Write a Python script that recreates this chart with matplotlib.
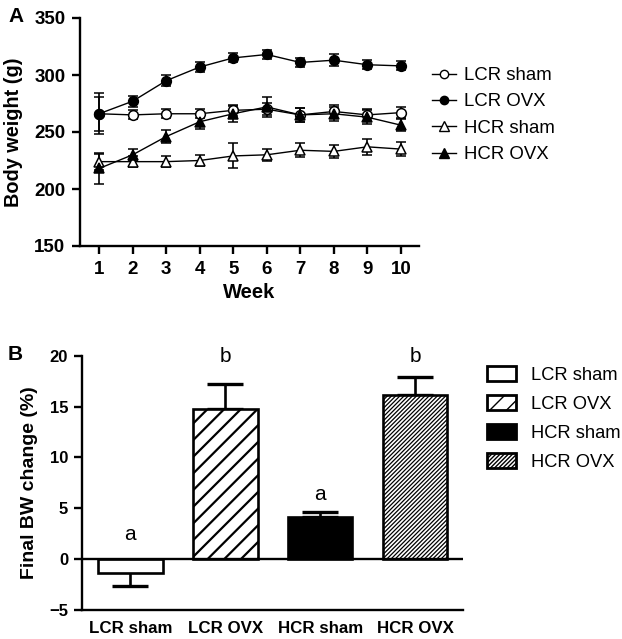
import matplotlib
matplotlib.use("Agg")
import matplotlib.pyplot as plt
from matplotlib.patches import Patch
from matplotlib.lines import Line2D

plt.rcParams['font.family'] = ['Liberation Sans', 'DejaVu Sans']

# ---- Panel A data ----
weeks = [1, 2, 3, 4, 5, 6, 7, 8, 9, 10]
lcr_sham = [266, 265, 266, 266, 269, 270, 265, 268, 265, 267]
lcr_sham_err = [18, 4, 4, 4, 5, 5, 6, 6, 5, 5]
lcr_ovx = [266, 277, 295, 307, 315, 318, 311, 313, 309, 308]
lcr_ovx_err = [15, 5, 5, 4, 4, 4, 4, 5, 4, 4]
hcr_sham = [224, 224, 224, 225, 229, 230, 234, 233, 237, 235]
hcr_sham_err = [7, 5, 5, 5, 11, 5, 6, 6, 7, 6]
hcr_ovx = [218, 230, 246, 259, 266, 272, 265, 266, 263, 256]
hcr_ovx_err = [14, 5, 6, 6, 7, 9, 6, 6, 6, 5]
series_labels = ['LCR sham', 'LCR OVX', 'HCR sham', 'HCR OVX']

# ---- Panel B data ----
groups = ['LCR sham', 'LCR OVX', 'HCR sham', 'HCR OVX']
bw_change = [-1.35, 14.8, 4.1, 16.1]
bw_err = [1.3, 2.4, 0.5, 1.8]
letters = ['a', 'b', 'a', 'b']
letter_y = [1.9, 19.4, 5.8, 19.4]

fig = plt.figure(figsize=(6.22, 6.39), dpi=100)

W, H = 622.0, 639.0
def ax_rect(l, r, t, b):
    return [l / W, 1 - b / H, (r - l) / W, (b - t) / H]

# ================= Panel A =================
axA = fig.add_axes(ax_rect(80, 419, 18, 246))
styles = [
    dict(marker='o', mfc='white', ms=7),
    dict(marker='o', mfc='black', ms=7),
    dict(marker='^', mfc='white', ms=7.5),
    dict(marker='^', mfc='black', ms=7.5),
]
data = [(lcr_sham, lcr_sham_err), (lcr_ovx, lcr_ovx_err),
        (hcr_sham, hcr_sham_err), (hcr_ovx, hcr_ovx_err)]
handles = []
for (y, e), st, lab in zip(data, styles, series_labels):
    axA.errorbar(weeks, y, yerr=e, color='black', lw=1.0, elinewidth=1.2,
                 capsize=3.6, capthick=1.6, mec='black', mew=1.1, **st,
                 zorder=3)
    handles.append(Line2D([0], [0], color='black', lw=1.0, mec='black',
                          mew=1.0, marker=st['marker'], mfc=st['mfc'],
                          ms=st['ms'] - 1))

axA.set_xlim(0.43, 10.54)
axA.set_ylim(150, 350)
axA.set_xticks(weeks)
axA.set_yticks([150, 200, 250, 300, 350])
for s in ['top', 'right']:
    axA.spines[s].set_visible(False)
for s in ['left', 'bottom']:
    axA.spines[s].set_linewidth(1.7)
axA.tick_params(width=1.7, length=5.5, labelsize=13.5, direction='out',
                pad=5)
for lab in axA.get_xticklabels() + axA.get_yticklabels():
    lab.set_fontweight('bold')
axA.set_xlabel('Week', fontsize=14.5, fontweight='bold', labelpad=4)
axA.set_ylabel('Body weight (g)', fontsize=14.3, fontweight='bold',
               labelpad=8)

legA = fig.legend(handles, series_labels, loc='upper left',
                  bbox_to_anchor=(432 / W, 1 - 67 / H), frameon=False,
                  fontsize=13.4, handlelength=1.3, handletextpad=0.4,
                  labelspacing=0.5, borderpad=0, borderaxespad=0)

fig.text(8 / W, 1 - 17 / H, 'A', fontsize=15, fontweight='bold',
         ha='left', va='center')

# ================= Panel B =================
axB = fig.add_axes(ax_rect(82, 463, 355.7, 610))
x = list(range(len(groups)))
faces = ['white', 'white', 'black', 'white']
hatches = [None, '//', None, '////////']
bars = axB.bar(x, bw_change, width=0.68, color=faces, edgecolor='black',
               linewidth=1.9, zorder=2)
for b, h in zip(bars, hatches):
    if h:
        b.set_hatch(h)
        try:
            b.set_hatch_linewidth(1.6 if h == '//' else 0.9)
        except Exception:
            pass

# error bars: LCR sham both directions, others upward only
lower = [bw_err[0], 0, 0, 0]
upper = [bw_err[0], bw_err[1], bw_err[2], bw_err[3]]
axB.errorbar(x, bw_change, yerr=[lower, upper], fmt='none', ecolor='black',
             elinewidth=1.9, capsize=13, capthick=2.4, zorder=1)

axB.axhline(0, color='black', lw=1.7, zorder=3)
axB.set_xlim(-0.51, 3.505)
axB.set_ylim(-5, 20)
axB.set_yticks([-5, 0, 5, 10, 15, 20])
axB.set_yticklabels(['\u22125', '0', '5', '10', '15', '20'])
axB.set_xticks(x)
axB.set_xticklabels(groups)
for s in ['top', 'right']:
    axB.spines[s].set_visible(False)
for s in ['left', 'bottom']:
    axB.spines[s].set_linewidth(1.7)
axB.tick_params(axis='y', width=1.7, length=6, labelsize=12, pad=4)
axB.tick_params(axis='x', length=0, labelsize=12.2, pad=8)
for lab in axB.get_xticklabels() + axB.get_yticklabels():
    lab.set_fontweight('bold')
axB.set_ylabel('Final BW change (%)', fontsize=14, fontweight='bold',
               labelpad=8)

for xi, ly, l in zip(x, letter_y, letters):
    axB.text(xi, ly, l, ha='center', va='baseline', fontsize=15)

patch_handles = []
for f, h in zip(faces, hatches):
    p = Patch(facecolor=f, edgecolor='black', linewidth=2.0, hatch=h)
    patch_handles.append(p)
legB = fig.legend(patch_handles, groups, loc='upper left',
                  bbox_to_anchor=(487 / W, 1 - 366 / H), frameon=False,
                  fontsize=13.2, handlelength=1.6, handleheight=0.85,
                  handletextpad=0.8, labelspacing=0.62, borderpad=0,
                  borderaxespad=0)

fig.text(8 / W, 1 - 355 / H, 'B', fontsize=15, fontweight='bold',
         ha='left', va='center')

fig.savefig('out.png', dpi=100)
